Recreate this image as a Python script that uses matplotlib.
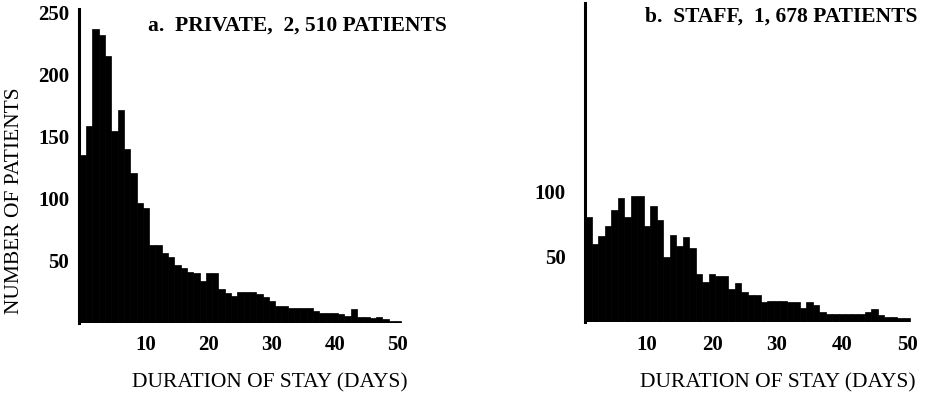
import numpy as np
from matplotlib import pyplot as plt

# --- dati ---
# a. pazienti privati, durata 0..50 giorni
giorni_priv = np.arange(0, 51)
paz_priv = [135, 159, 237, 232, 215, 155, 172, 140, 121, 97,
            93, 63, 63, 56, 53, 47, 44, 41, 40, 34,
            40, 40, 27, 24, 22, 25, 25, 25, 23, 21,
            18, 14, 14, 12, 12, 12, 12, 10, 8, 8,
            8, 7, 6, 11, 5, 5, 4, 5, 3, 2, 2]

# b. pazienti staff, durata 1..50 giorni
giorni_staff = np.arange(1, 51)
paz_staff = [81, 60, 66, 74, 86, 95, 81, 97, 97, 74,
             89, 78, 50, 67, 58, 65, 57, 37, 31, 37,
             35, 35, 25, 30, 23, 21, 21, 15, 16, 16,
             16, 15, 15, 11, 15, 13, 8, 6, 6, 6,
             6, 6, 6, 8, 10, 5, 4, 4, 3, 3]

xticks = [10, 20, 30, 40, 50]
yticks_priv = [50, 100, 150, 200, 250]
yticks_staff = [50, 100]

W, H = 939, 394
fig = plt.figure(figsize=(W / 100, H / 100), dpi=100)

def assi_px(x0, y0, x1, y1):
    return fig.add_axes([x0 / W, 1 - y1 / H, (x1 - x0) / W, (y1 - y0) / H])

serif = 'Liberation Serif'
fs = 15.5

def stile(ax, yticks, ypad):
    for s in ['top', 'right', 'bottom']:
        ax.spines[s].set_visible(False)
    ax.spines['left'].set_linewidth(2.2)
    ax.tick_params(length=0)
    ax.tick_params(axis='x', pad=9)
    ax.tick_params(axis='y', pad=ypad)
    ax.set_xticks(xticks)
    ax.set_yticks(yticks)
    for lab in ax.get_xticklabels() + ax.get_yticklabels():
        lab.set_fontfamily(serif)
        lab.set_fontweight('bold')
        lab.set_fontsize(15)

# --- a. PRIVATE ---
ax1 = assi_px(79, 9, 420, 323)
ax1.bar(giorni_priv, paz_priv, width=1, color='black', edgecolor='black', linewidth=0.5)
ax1.set_xlim(-0.63, 53.5)
ax1.set_ylim(0, 253)
stile(ax1, yticks_priv, 7)

# --- b. STAFF ---
ax2 = assi_px(585, 3, 935, 322)
ax2.bar(giorni_staff, paz_staff, width=1, color='black', edgecolor='black', linewidth=0.5)
ax2.set_xlim(0.46, 54.3)
ax2.set_ylim(0, 245)
stile(ax2, yticks_staff, 14)

# titoli ed etichette
fig.text(148 / W, 1 - 26 / H, 'a.  PRIVATE,  2, 510 PATIENTS', family=serif,
         weight='bold', fontsize=fs, va='center', ha='left')
fig.text(645 / W, 1 - 17 / H, 'b.  STAFF,  1, 678 PATIENTS', family=serif,
         weight='bold', fontsize=fs, va='center', ha='left')
fig.text(15 / W, 1 - 201 / H, 'NUMBER OF PATIENTS', family=serif,
         fontsize=fs, rotation=90, va='center', ha='center')
fig.text(270 / W, 1 - 383 / H, 'DURATION OF STAY (DAYS)', family=serif,
         fontsize=fs, va='center', ha='center')
fig.text(778 / W, 1 - 383 / H, 'DURATION OF STAY (DAYS)', family=serif,
         fontsize=fs, va='center', ha='center')

fig.savefig('out.png', dpi=100)
